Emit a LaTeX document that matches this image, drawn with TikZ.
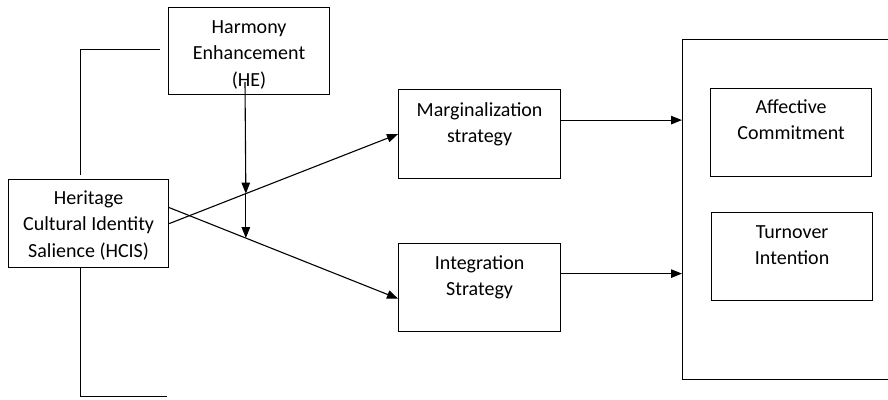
\documentclass[tikz,border=0pt]{standalone}
\usepackage{fontspec}
\setmainfont{Carlito}
\usetikzlibrary{arrows.meta,calc}
\newcommand\mylines[1]{\begin{tabular}[t]{@{}c@{}}#1\end{tabular}}
\begin{document}
\begin{tikzpicture}[x=1pt,y=-1pt,
  box/.style={draw,line width=1.2pt,inner sep=0pt,anchor=north west},
  lbl/.style={anchor=base,inner sep=0pt,font=\fontsize{20}{26.5}\selectfont},
  conn/.style={line width=1.1pt},
  arr/.style={conn,-{Triangle[length=11pt,width=8.5pt]}}]
\useasboundingbox (0,0) rectangle (888,399);
\clip (0,0) rectangle (888,399);
% boxes
\node[box,minimum width=161pt,minimum height=87pt] (he) at (168,7) {};
\node[lbl] (heT) at ($(he.north)+(0,26)$) {\mylines{Harmony\\Enhancement\\(HE)}};
\node[box,minimum width=160pt,minimum height=88pt] (hcis) at (8,179) {};
\node[lbl] (hcisT) at ($(hcis.north)+(0,25)$) {\mylines{Heritage\\Cultural Identity\\Salience (HCIS)}};
\node[box,minimum width=162pt,minimum height=89pt] (marg) at (398,89) {};
\node[lbl] (margT) at ($(marg.north)+(0,27)$) {\mylines{Marginalization\\strategy}};
\node[box,minimum width=162pt,minimum height=88pt] (integ) at (398,243) {};
\node[lbl] (integT) at ($(integ.north)+(0,26)$) {\mylines{Integration\\Strategy}};
\node[box,minimum width=212pt,minimum height=340pt] (outer) at (682,39) {};
\node[box,minimum width=161pt,minimum height=88pt] (aff) at (710,88) {};
\node[lbl] (affT) at ($(aff.north)+(0,25)$) {\mylines{Affective\\Commitment}};
\node[box,minimum width=161pt,minimum height=88pt] (turn) at (711,212) {};
\node[lbl] (turnT) at ($(turn.north)+(0,26)$) {\mylines{Turnover\\Intention}};
% brackets
\coordinate (bt1) at (80.5,175);
\coordinate (bt2) at (160,49.5);
\coordinate (bb1) at (80.5,267);
\coordinate (bb2) at (167,396.5);
\draw[conn] (bt1) |- (bt2);
\draw[conn] (bb1) |- (bb2);
% HCIS to strategies
\coordinate (hm) at (hcis.east);
\coordinate (hi) at ($(hcis.east)+(0,-16)$);
\coordinate (mi) at (marg.west);
\coordinate (ii) at ($(integ.west)+(0,11)$);
\draw[arr] (hm) -- (mi);
\draw[arr] (hi) -- (ii);
% moderator
\coordinate (heS) at (245,82);
\coordinate (x1) at ($(hm)!0.335!(mi)$);
\coordinate (x2) at ($(hi)!0.335!(ii)$);
\draw[arr] (heS) -- (x1);
\draw[arr] (x1) -- (x2);
% strategies to outcomes
\coordinate (m1) at ($(marg.east)+(0,-14)$);
\coordinate (i1) at ($(integ.east)+(0,-14)$);
\draw[arr] (m1) -- (m1 -| outer.west);
\draw[arr] (i1) -- (i1 -| outer.west);
\end{tikzpicture}
\end{document}
